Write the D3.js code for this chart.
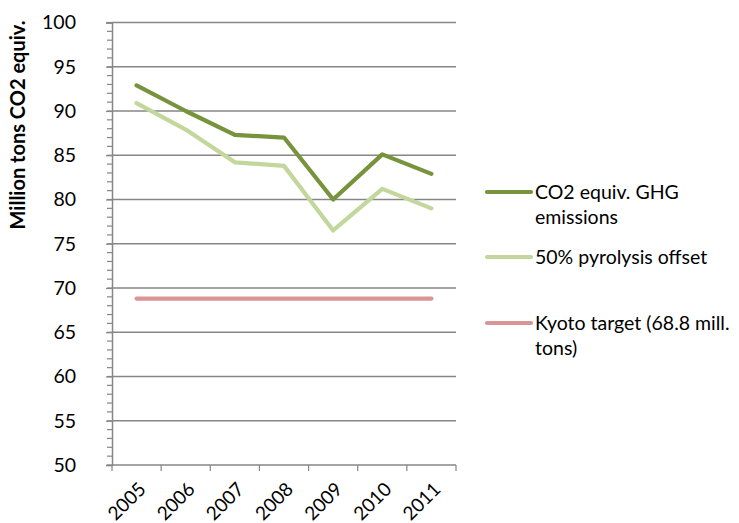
<!DOCTYPE html>
<html>
<head>
<meta charset="utf-8">
<script src="https://cdn.jsdelivr.net/npm/d3@7"></script>
<style>
  body { margin: 0; background: #fff; }
  svg text { font-family: Lato, "Open Sans", sans-serif; fill: #000; }
</style>
</head>
<body>
<div id="chart"></div>
<script>
// chart data
const years = ['2005', '2006', '2007', '2008', '2009', '2010', '2011'];
const ghg = [92.9, 90.0, 87.3, 87.0, 80.0, 85.1, 82.9];
const pyrolysis = [90.9, 87.9, 84.2, 83.8, 76.5, 81.2, 79.0];
const kyoto = [68.8, 68.8, 68.8, 68.8, 68.8, 68.8, 68.8];
const yTicks = [50, 55, 60, 65, 70, 75, 80, 85, 90, 95, 100];
const seriesNames = ['CO2 equiv. GHG|emissions', '50% pyrolysis offset', 'Kyoto target (68.8 mill.|tons)'];
const seriesColors = ['#77933C', '#C3D69B', '#D99694'];

const width = 739, height = 523;
const margin = {top: 22.5, right: 283, bottom: 58, left: 112};
const cWidth = width - margin.left - margin.right;
const cHeight = height - margin.top - margin.bottom;

const svg = d3.select('#chart').append('svg')
    .attr('width', width)
    .attr('height', height);
const g = svg.append('g').attr('transform', `translate(${margin.left},${margin.top})`);

const x = d3.scaleBand().domain(years).range([0, cWidth]);
const y = d3.scaleLinear().domain([50, 100]).range([cHeight, 0]);
const grey = '#868686';

// horizontal gridlines
g.append('g')
    .selectAll('line')
    .data(yTicks.filter(d => d > 50))
    .enter().append('line')
        .attr('x1', 0)
        .attr('x2', cWidth)
        .attr('y1', d => y(d))
        .attr('y2', d => y(d))
        .attr('stroke', grey)
        .attr('stroke-width', 1.3);

// minor ticks on y axis
g.append('g')
    .selectAll('line')
    .data(d3.range(50, 101, 1))
    .enter().append('line')
        .attr('x1', -5)
        .attr('x2', 0)
        .attr('y1', d => y(d))
        .attr('y2', d => y(d))
        .attr('stroke', grey)
        .attr('stroke-width', 1.2);

// y axis
const yAxis = g.append('g')
    .call(d3.axisLeft(y).tickValues(yTicks).tickSize(6).tickPadding(30));
yAxis.selectAll('line').attr('stroke', grey).attr('stroke-width', 1.2);
yAxis.select('.domain').attr('stroke', grey).attr('stroke-width', 1.5);
yAxis.selectAll('text')
    .attr('font-size', 19.5)
    .style('font-family', 'Lato, sans-serif');

// x axis, ticks on the band edges
const xAxis = g.append('g').attr('transform', `translate(0,${cHeight})`);
xAxis.append('line')
    .attr('x1', 0).attr('x2', cWidth)
    .attr('stroke', grey).attr('stroke-width', 1.5);
xAxis.selectAll('.edge')
    .data(years.concat(['end']))
    .enter().append('line')
        .attr('class', 'edge')
        .attr('x1', (d, i) => i * x.bandwidth())
        .attr('x2', (d, i) => i * x.bandwidth())
        .attr('y1', 0)
        .attr('y2', 6)
        .attr('stroke', grey)
        .attr('stroke-width', 1.2);
xAxis.selectAll('text')
    .data(years)
    .enter().append('text')
        .attr('transform', d => `translate(${x(d) + x.bandwidth() / 2 + 1},${16}) rotate(-45)`)
        .attr('text-anchor', 'end')
        .attr('dy', '0.7em')
        .attr('font-size', 19)
        .text(d => d);

// y axis title
svg.append('text')
    .attr('transform', 'translate(25,125) rotate(-90)')
    .attr('text-anchor', 'middle')
    .attr('font-size', 20)
    .attr('font-weight', 'bold')
    .text('Million tons CO2 equiv.');

// series lines
const line = d3.line()
    .x((d, i) => x(years[i]) + x.bandwidth() / 2)
    .y(d => y(d));

[ghg, pyrolysis, kyoto].forEach((s, i) => {
    g.append('path')
        .datum(s)
        .attr('d', line)
        .attr('fill', 'none')
        .attr('stroke', seriesColors[i])
        .attr('stroke-width', 4.2)
        .attr('stroke-linejoin', 'round')
        .attr('stroke-linecap', 'round');
});

// legend
const legendY = [192, 257, 323];
const legend = svg.append('g')
    .selectAll('.legend')
    .data(seriesNames)
    .enter().append('g')
        .attr('class', 'legend')
        .attr('transform', (d, i) => `translate(486,${legendY[i]})`);

legend.append('line')
    .attr('x1', 1)
    .attr('x2', 45)
    .attr('stroke', (d, i) => seriesColors[i])
    .attr('stroke-width', 4.2)
    .attr('stroke-linecap', 'round');

legend.append('text')
    .attr('x', 49)
    .attr('font-size', 19.5)
    .selectAll('tspan')
    .data(d => d.split('|'))
    .enter().append('tspan')
        .attr('x', 49)
        .attr('y', (d, i) => 7 + i * 25)
        .text(d => d);
</script>
</body>
</html>
